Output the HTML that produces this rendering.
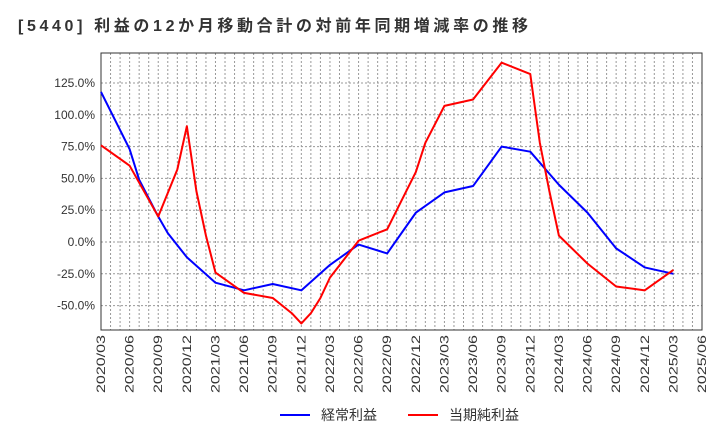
<!DOCTYPE html>
<html><head><meta charset="utf-8"><style>
body{margin:0;background:#fff;font-family:"Liberation Sans","Noto Sans CJK JP",sans-serif}
</style></head><body>
<svg width="720" height="440" xmlns="http://www.w3.org/2000/svg">
<text x="18" y="31" font-size="16" font-weight="bold" fill="#333" textLength="510" lengthAdjust="spacing">[5440]  利益の12か月移動合計の対前年同期増減率の推移</text>
<g id="grid"></g><g id="axes"></g><g id="series"></g>
<g>
<line x1="280" y1="415" x2="310" y2="415" stroke="#0000ff" stroke-width="2"/>
<text x="321" y="420" font-size="14" fill="#333">経常利益</text>
<line x1="408" y1="415" x2="438" y2="415" stroke="#ff0000" stroke-width="2"/>
<text x="449" y="420" font-size="14" fill="#333">当期純利益</text>
</g>
</svg>
<script>
const xLabels=["2020/03","2020/06","2020/09","2020/12","2021/03","2021/06","2021/09","2021/12","2022/03","2022/06","2022/09","2022/12","2023/03","2023/06","2023/09","2023/12","2024/03","2024/06","2024/09","2024/12","2025/03","2025/06"];
const yTicks=[-50,-25,0,25,50,75,100,125];
const blueMonths=[0,3,4,6,7,9,12,15,18,21,24,27,30,33,36,39,42,45,48,51,54,57,60];
const blueValues=[118,73,49,20,7,-12,-32,-38,-33,-38,-18,-2,-9,23,39,44,75,71,45,23,-5,-20,-25];
const redMonths=[0,3,6,8,9,10,11,12,15,18,20,21,22,23,24,27,30,31,33,34,36,39,42,45,46,47,48,51,54,57,60];
const redValues=[76,60,20,57,91,40,5,-24,-40,-44,-56,-64,-56,-44,-28,1,10,25,55,78,107,112,141,132,78,40,5,-17,-35,-38,-22];
const L=101,R=702,T=53,B=330;
const xs=m=>L+m*(R-L)/63;
const ys=v=>242-v*1.272;
const NS="http://www.w3.org/2000/svg";
function mk(t,a,p){const e=document.createElementNS(NS,t);for(const k in a)e.setAttribute(k,a[k]);p.appendChild(e);return e;}
const grid=document.getElementById('grid'),axes=document.getElementById('axes'),ser=document.getElementById('series');
for(let m=1;m<63;m++){const l=mk('line',{x1:xs(m),x2:xs(m),y1:T,y2:B,stroke:'#999','stroke-dasharray':'2,2','stroke-width':1},grid);

}
yTicks.forEach(v=>{const l=mk('line',{x1:L,x2:R,y1:ys(v),y2:ys(v),stroke:'#999','stroke-dasharray':'2,2','stroke-width':1},grid);


const t=mk('text',{x:L-6,y:ys(v)+4,'font-size':12,'text-anchor':'end',fill:'#333'},axes);
t.textContent=v.toFixed(1)+'%';

});
const fr=mk('rect',{x:L,y:T,width:R-L,height:B-T,fill:'none',stroke:'#333','stroke-width':1},axes);


xLabels.forEach((s,i)=>{const x=xs(i*3);const t=mk('text',{x:0,y:0,'font-size':12,'text-anchor':'end',fill:'#333',textLength:58,lengthAdjust:'spacingAndGlyphs',transform:`translate(${x+4},${B+5}) rotate(-90)`},axes);
t.textContent=s;

});
function line(ms,vs,c,name){const p=mk('polyline',{points:ms.map((m,i)=>xs(m)+','+ys(vs[i])).join(' '),fill:'none',stroke:c,'stroke-width':2,'stroke-linejoin':'round'},ser);

}
line(blueMonths,blueValues,'#0000ff','ordinary-profit-line');
line(redMonths,redValues,'#ff0000','net-profit-line');
</script>
</body></html>
